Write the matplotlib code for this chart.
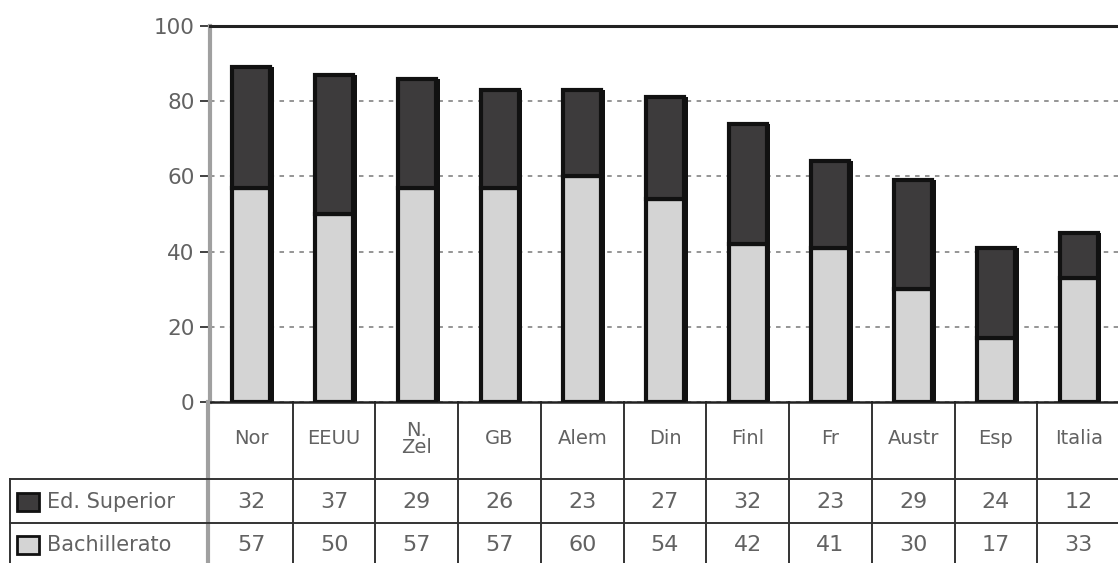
import matplotlib
matplotlib.use("Agg")
import matplotlib.pyplot as plt
import matplotlib.transforms as mtransforms
from matplotlib.patches import Rectangle
import numpy as np

countries = ["Nor", "EEUU", "N.\nZel", "GB", "Alem", "Din", "Finl", "Fr", "Austr", "Esp", "Italia"]
ed_superior = [32, 37, 29, 26, 23, 27, 32, 23, 29, 24, 12]
bachillerato = [57, 50, 57, 57, 60, 54, 42, 41, 30, 17, 33]
row_labels = ["Ed. Superior", "Bachillerato"]
yticks = [0, 20, 40, 60, 80, 100]

W, H = 1118, 563
plt.rcParams["font.family"] = ["DejaVu Sans"]
fig = plt.figure(figsize=(W / 100, H / 100), dpi=100)
ax = fig.add_axes([210 / W, 1 - 402 / H, 910 / W, 376 / H])

dark = "#3d3b3c"
light = "#d4d4d4"
txt = "#626262"

x = np.arange(len(countries))
totals = np.array(ed_superior) + np.array(bachillerato)
# shadow behind each stacked column
ax.bar(x + 0.045, totals, 0.46, color="#111111", zorder=2)
ax.bar(x, bachillerato, 0.46, color=light, edgecolor="#111111", linewidth=3, zorder=3)
ax.bar(x, ed_superior, 0.46, bottom=bachillerato, color=dark, edgecolor="#111111",
       linewidth=3, zorder=3)

ax.set_xlim(-0.5, len(countries) - 0.5)
ax.set_ylim(0, 100)
ax.set_yticks(yticks)
ax.set_xticks([])
ax.yaxis.grid(True, linestyle=(0, (2.5, 3)), color="#8c8c8c", linewidth=1.3, zorder=1)
ax.tick_params(axis="y", direction="out", length=7, width=1.3, color="#333333",
               labelsize=15.5, labelcolor=txt, pad=4)
ax.spines["right"].set_visible(False)
ax.spines["top"].set_linewidth(2.2)
ax.spines["top"].set_color("#222222")
ax.spines["left"].set_linewidth(3)
ax.spines["left"].set_color("#a0a0a0")
ax.spines["bottom"].set_linewidth(1.8)
ax.spines["bottom"].set_color("#222222")

# data table under the bars
blend = mtransforms.blended_transform_factory(ax.transData, fig.transFigure)
def fy(py):
    return 1 - py / H

line_kw = dict(color="#333333", linewidth=1.4, clip_on=False)
for k in range(1, len(countries) + 1):
    ax.plot([k - 0.5, k - 0.5], [fy(402), fy(570)], transform=blend, **line_kw)
fig.add_artist(plt.Line2D([208 / W, 208 / W], [fy(402), fy(570)], color="#a0a0a0",
                          linewidth=3, transform=fig.transFigure))
for py in (479, 523):
    fig.add_artist(plt.Line2D([10 / W, 1], [fy(py), fy(py)], transform=fig.transFigure,
                              color="#333333", linewidth=1.4))
fig.add_artist(plt.Line2D([10 / W, 10 / W], [fy(479), fy(570)], transform=fig.transFigure,
                          color="#333333", linewidth=1.4))

for i, c in enumerate(countries):
    ax.text(i, fy(439), c, transform=blend, ha="center", va="center", fontsize=14,
            color=txt, linespacing=0.85)
    ax.text(i, fy(502), str(ed_superior[i]), transform=blend, ha="center", va="center",
            fontsize=16, color=txt)
    ax.text(i, fy(545), str(bachillerato[i]), transform=blend, ha="center", va="center",
            fontsize=16, color=txt)

for label, colr, py in zip(row_labels, [dark, light], [502, 545]):
    fig.add_artist(Rectangle((17 / W, fy(py + 9)), 22 / W, 18 / H, transform=fig.transFigure,
                             facecolor=colr, edgecolor="#111111", linewidth=2))
    fig.text(47 / W, fy(py), label, ha="left", va="center", fontsize=15, color=txt)

fig.savefig("out.png", dpi=100)
